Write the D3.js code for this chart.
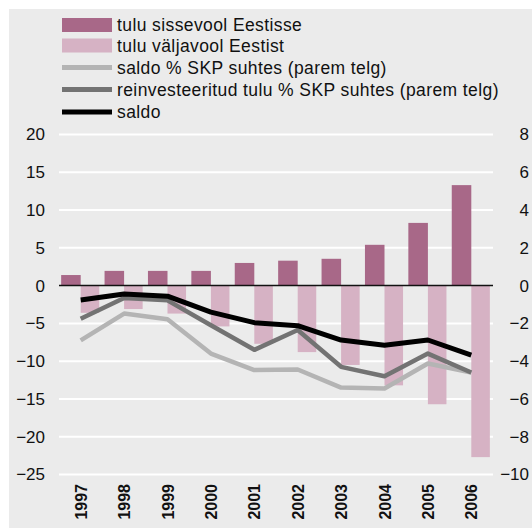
<!DOCTYPE html>
<html>
<head>
<meta charset="utf-8">
<script src="https://cdnjs.cloudflare.com/ajax/libs/d3/7.8.5/d3.min.js"></script>
<style>
body { margin: 0; background: #fff; }
svg { display: block; font-family: "Liberation Sans", Arial, sans-serif; }
</style>
</head>
<body>
<div id="chart"></div>
<script>
//Data
var years = ["1997", "1998", "1999", "2000", "2001", "2002", "2003", "2004", "2005", "2006"];
var inflow = [1.4, 1.95, 1.95, 1.95, 3.0, 3.3, 3.55, 5.4, 8.3, 13.3];
var outflow = [-3.6, -3.1, -3.7, -5.4, -7.7, -8.8, -10.5, -13.2, -15.7, -22.7];
var saldo = [-1.9, -1.1, -1.4, -3.5, -4.9, -5.3, -7.2, -7.9, -7.2, -9.2];
var reinvestPct = [-1.75, -0.66, -0.78, -2.1, -3.4, -2.35, -4.3, -4.8, -3.6, -4.6];
var saldoPct = [-2.9, -1.48, -1.78, -3.6, -4.47, -4.44, -5.4, -5.45, -4.12, -4.6];
var leftTicks = [20, 15, 10, 5, 0, -5, -10, -15, -20, -25];
var rightTicks = [8, 6, 4, 2, 0, -2, -4, -6, -8, -10];
var legendLabels = ["tulu sissevool Eestisse", "tulu väljavool Eestist",
	"saldo % SKP suhtes (parem telg)", "reinvesteeritud tulu % SKP suhtes (parem telg)", "saldo"];

var colors = {
	inflow: "#a86888",
	outflow: "#d6b2c4",
	saldoPct: "#b4b4b4",
	reinvest: "#737373",
	saldo: "#000000"
};

var width = 532, height = 528;
var plot = {left: 59, right: 493, top: 134.5, bottom: 474.5};

var svg = d3.select("#chart").append("svg")
	.attr("width", width)
	.attr("height", height);

//background panel
svg.append("rect")
	.attr("x", 9).attr("y", 9)
	.attr("width", width - 9).attr("height", height - 9)
	.attr("fill", "#ebebeb");

//scales
var x = d3.scaleBand().domain(years).range([plot.left, plot.right]).paddingInner(0).paddingOuter(0);
var xSub = d3.scaleBand().domain(["in", "out"]).range([0, x.bandwidth()]).paddingOuter(0.11).paddingInner(0);
var yL = d3.scaleLinear().domain([-25, 20]).range([plot.bottom, plot.top]);
var yR = d3.scaleLinear().domain([-10, 8]).range([plot.bottom, plot.top]);

//gridlines
svg.append("g")
	.selectAll("line")
	.data(leftTicks.filter(function(d){ return d !== 0; }))
	.enter().append("line")
	.attr("x1", plot.left).attr("x2", plot.right)
	.attr("y1", function(d){ return yL(d); })
	.attr("y2", function(d){ return yL(d); })
	.attr("stroke", "#fff")
	.attr("stroke-width", 2);

//left axis
var leftAxis = svg.append("g")
	.attr("transform", "translate(" + 45 + ",0)")
	.call(d3.axisLeft(yL).tickValues(leftTicks).tickSize(0).tickPadding(0).tickFormat(d3.format("d")));
leftAxis.select(".domain").remove();
leftAxis.selectAll("text").attr("font-size", 17).attr("fill", "#111").attr("font-family", "Liberation Sans, Arial, sans-serif");

//right axis, labels right aligned at the edge
var rightAxis = svg.append("g")
	.attr("transform", "translate(" + 529 + ",0)")
	.call(d3.axisRight(yR).tickValues(rightTicks).tickSize(0).tickPadding(0).tickFormat(d3.format("d")));
rightAxis.select(".domain").remove();
rightAxis.selectAll("text").attr("font-size", 17).attr("fill", "#111")
	.attr("text-anchor", "end")
	.attr("font-family", "Liberation Sans, Arial, sans-serif");

//bars
var bars = svg.append("g");
bars.selectAll(".in")
	.data(years)
	.enter().append("rect")
	.attr("class", "in")
	.attr("x", function(d){ return x(d) + xSub("in"); })
	.attr("width", xSub.bandwidth())
	.attr("y", function(d, i){ return yL(inflow[i]); })
	.attr("height", function(d, i){ return yL(0) - yL(inflow[i]); })
	.attr("fill", colors.inflow);
bars.selectAll(".out")
	.data(years)
	.enter().append("rect")
	.attr("class", "out")
	.attr("x", function(d){ return x(d) + xSub("out"); })
	.attr("width", xSub.bandwidth() - 1)
	.attr("y", yL(0))
	.attr("height", function(d, i){ return yL(outflow[i]) - yL(0); })
	.attr("fill", colors.outflow);

//zero line
svg.append("line")
	.attr("x1", plot.left).attr("x2", plot.right)
	.attr("y1", yL(0)).attr("y2", yL(0))
	.attr("stroke", "#111")
	.attr("stroke-width", 1.5);

//lines
function cx(d){ return x(d) + x.bandwidth() / 2; }
var series = [
	{vals: saldoPct, scale: yR, color: colors.saldoPct, w: 4.5},
	{vals: reinvestPct, scale: yR, color: colors.reinvest, w: 4.5},
	{vals: saldo, scale: yL, color: colors.saldo, w: 5}
];
series.forEach(function(s){
	var line = d3.line()
		.x(function(d){ return cx(d); })
		.y(function(d, i){ return s.scale(s.vals[i]); });
	svg.append("path")
		.datum(years)
		.attr("d", line)
		.attr("fill", "none")
		.attr("stroke", s.color)
		.attr("stroke-width", s.w)
		.attr("stroke-linejoin", "round");
});

//year labels
svg.append("g")
	.selectAll("text")
	.data(years)
	.enter().append("text")
	.attr("transform", function(d){ return "translate(" + (cx(d) + 6) + "," + 484 + ") rotate(-90)"; })
	.attr("text-anchor", "end")
	.attr("font-size", 16)
	.attr("font-weight", "bold")
	.attr("fill", "#111")
	.text(function(d){ return d; });

//legend
var legendRows = [
	{type: "rect", color: colors.inflow, y: 25},
	{type: "rect", color: colors.outflow, y: 45.5},
	{type: "line", color: colors.saldoPct, y: 67.5},
	{type: "line", color: colors.reinvest, y: 89.5},
	{type: "line", color: colors.saldo, y: 112}
];
var legend = svg.append("g");
legendRows.forEach(function(r, i){
	if (r.type === "rect") {
		legend.append("rect")
			.attr("x", 62).attr("y", r.y - 7)
			.attr("width", 50).attr("height", 14)
			.attr("fill", r.color);
	} else {
		legend.append("line")
			.attr("x1", 62).attr("x2", 112)
			.attr("y1", r.y).attr("y2", r.y)
			.attr("stroke", r.color)
			.attr("stroke-width", 5);
	}
	legend.append("text")
		.attr("x", 117).attr("y", r.y + 6)
		.attr("font-size", 17.5)
		.attr("letter-spacing", 0.4)
		.attr("fill", "#111")
		.text(legendLabels[i]);
});
</script>
</body>
</html>
